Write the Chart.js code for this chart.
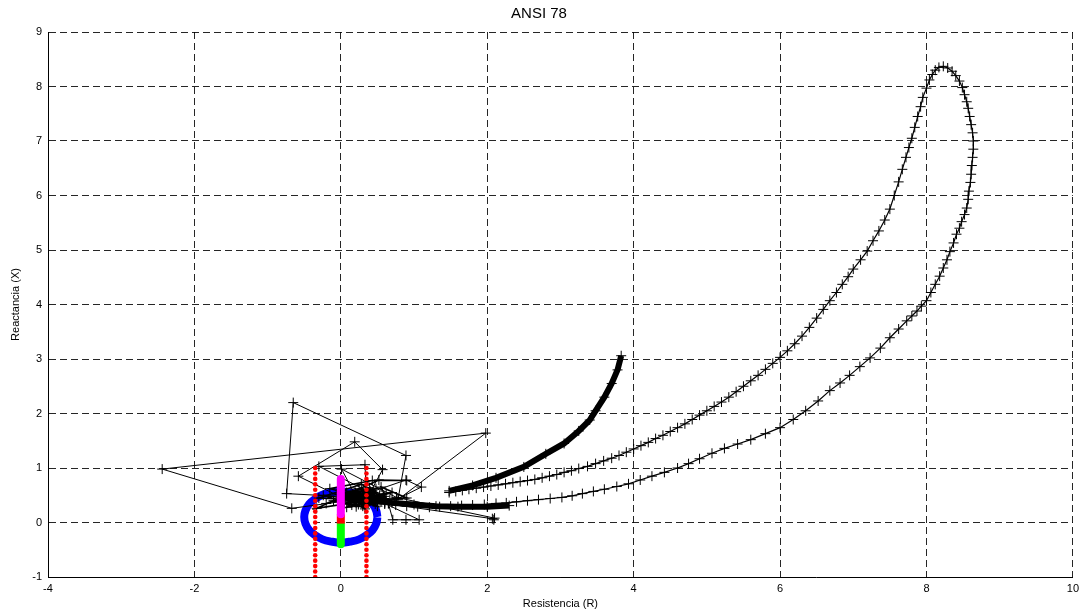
<!DOCTYPE html>
<html>
<head>
<meta charset="utf-8">
<script src="https://cdn.jsdelivr.net/npm/chart.js@4/dist/chart.umd.min.js"></script>
<style>
  html, body { margin: 0; padding: 0; background: #fff; }
  #wrap { width: 1084px; height: 613px; }
</style>
</head>
<body>
<div id="wrap"><canvas id="chart"></canvas></div>
<script>
// impedance trajectory (R, X)
const loopUpR = [1.48, 1.57, 1.66, 1.75, 1.85, 1.95, 2.05, 2.15, 2.25, 2.35, 2.45, 2.55, 2.65, 2.75, 2.85, 2.95, 3.05, 3.15, 3.25, 3.37, 3.48, 3.59, 3.7, 3.8, 3.9, 4.0, 4.1, 4.2, 4.3, 4.4, 4.5, 4.6, 4.7, 4.8, 4.9, 5.0, 5.1, 5.2, 5.3, 5.4, 5.5, 5.6, 5.7, 5.8, 5.9, 6.0, 6.1, 6.2, 6.3, 6.4, 6.5, 6.59, 6.68, 6.77, 6.85, 6.93, 7.0, 7.1, 7.19, 7.27, 7.35, 7.43, 7.5, 7.56, 7.62, 7.67, 7.72, 7.76, 7.8, 7.84, 7.88, 7.92, 7.95, 8.0, 8.04, 8.08, 8.12, 8.17, 8.23];
const loopUpX = [0.55, 0.57, 0.59, 0.61, 0.63, 0.65, 0.67, 0.69, 0.71, 0.73, 0.75, 0.77, 0.79, 0.82, 0.85, 0.88, 0.92, 0.95, 0.99, 1.03, 1.08, 1.13, 1.18, 1.23, 1.29, 1.35, 1.41, 1.47, 1.54, 1.60, 1.67, 1.74, 1.81, 1.89, 1.97, 2.05, 2.13, 2.21, 2.30, 2.40, 2.50, 2.60, 2.70, 2.81, 2.92, 3.03, 3.15, 3.28, 3.42, 3.58, 3.75, 3.91, 4.07, 4.22, 4.37, 4.51, 4.65, 4.82, 4.98, 5.17, 5.35, 5.55, 5.75, 6.00, 6.25, 6.48, 6.70, 6.88, 7.05, 7.25, 7.45, 7.63, 7.80, 7.97, 8.12, 8.22, 8.30, 8.35, 8.37];
const loopDownR = [8.29, 8.35, 8.40, 8.45, 8.49, 8.52, 8.55, 8.57, 8.59, 8.61, 8.63, 8.64, 8.64, 8.63, 8.62, 8.61, 8.60, 8.58, 8.57, 8.55, 8.52, 8.48, 8.45, 8.41, 8.37, 8.32, 8.28, 8.23, 8.18, 8.12, 8.06, 8.0, 7.93, 7.87, 7.80, 7.73, 7.62, 7.5, 7.37, 7.23, 7.09, 6.95, 6.82, 6.68, 6.52, 6.35, 6.18, 6.0, 5.8, 5.6, 5.42, 5.24, 5.07, 4.9, 4.75, 4.6, 4.42, 4.25, 4.09, 3.93, 3.77, 3.6, 3.45, 3.3, 3.16, 3.02, 2.86, 2.7, 2.55, 2.4, 2.26, 2.12, 1.96, 1.8, 1.65, 1.5, 1.35, 1.21, 1.05, 0.9, 0.75, 0.6];
const loopDownX = [8.34, 8.28, 8.20, 8.10, 7.98, 7.85, 7.72, 7.60, 7.45, 7.30, 7.15, 7.00, 6.85, 6.70, 6.55, 6.39, 6.24, 6.08, 5.93, 5.77, 5.65, 5.52, 5.40, 5.29, 5.13, 4.97, 4.82, 4.67, 4.52, 4.37, 4.22, 4.07, 3.97, 3.88, 3.79, 3.70, 3.55, 3.39, 3.20, 3.02, 2.86, 2.70, 2.56, 2.42, 2.23, 2.05, 1.89, 1.74, 1.63, 1.52, 1.44, 1.36, 1.27, 1.17, 1.08, 1.00, 0.92, 0.85, 0.78, 0.71, 0.66, 0.61, 0.57, 0.53, 0.49, 0.46, 0.44, 0.42, 0.40, 0.38, 0.36, 0.35, 0.33, 0.32, 0.31, 0.30, 0.29, 0.28, 0.29, 0.30, 0.32, 0.34];

const thickR = [1.48, 1.8, 2.12, 2.5, 2.8, 3.05, 3.25, 3.4, 3.48, 3.6, 3.7, 3.78, 3.83];
const thickX = [0.58, 0.68, 0.82, 1.02, 1.26, 1.45, 1.68, 1.88, 2.05, 2.3, 2.55, 2.8, 3.06];

const bandR = [0.45, 0.7, 1.0, 1.3, 1.6, 2.0, 2.3];
const bandX = [0.40, 0.36, 0.33, 0.30, 0.29, 0.29, 0.31];

const transR = [0.40, -0.74, -0.65, 0.89, 0.78, 1.98, -2.44, -0.67, 0.10, -0.58, 0.19, 0.57, 0.40, -0.30, 0.33, 0.35, 0.89, 1.10, 0.65, 0.71, 0.89, 1.07, 0.60, 2.07, 2.09, 2.10, 0.76, 0.01, 0.20];
const transX = [0.45, 0.53, 2.20, 1.23, 0.42, 1.64, 0.98, 0.26, 0.40, 0.85, 1.48, 0.97, 0.55, 1.03, 1.06, 0.53, 0.78, 0.65, 0.35, 0.05, 0.05, 0.05, 0.35, 0.07, 0.05, 0.08, 0.46, 0.98, 0.50];

const clusterR = [0.05, 0.2, 0.35, 0.15, -0.1, 0.25, 0.45, 0.3, 0.1, -0.2, 0.4, 0.55, 0.2, 0.0, 0.32, 0.5, 0.12, -0.3, 0.28, 0.6, 0.38, 0.08, 0.22, 0.48, -0.05, 0.33, 0.18, 0.42, 0.7, 0.25, 0.9, 0.55, 0.65, -0.15, 0.43, 0.9, 0.52, -0.33, 0.15, 0.62,
  0.27, 0.36, 0.14, 0.46, 0.31, 0.05, 0.40, 0.24, 0.58, 0.11, 0.34, 0.50, 0.19, 0.44, 0.29, 0.67, 0.08, 0.37, 0.53, 0.21, -0.24, 0.30, 0.47, 0.16, 0.39, 0.60, 0.26, 0.12, 0.44, 0.34];
const clusterX = [0.45, 0.55, 0.42, 0.32, 0.40, 0.62, 0.50, 0.30, 0.50, 0.35, 0.58, 0.40, 0.38, 0.60, 0.50, 0.30, 0.42, 0.45, 0.70, 0.48, 0.36, 0.28, 0.48, 0.62, 0.52, 0.25, 0.58, 0.44, 0.55, 0.40, 0.45, 0.65, 0.35, 0.62, 0.77, 0.77, 0.78, 0.26, 0.36, 0.53,
  0.46, 0.52, 0.56, 0.41, 0.39, 0.35, 0.48, 0.33, 0.44, 0.47, 0.61, 0.37, 0.44, 0.53, 0.57, 0.42, 0.55, 0.43, 0.50, 0.29, 0.50, 0.40, 0.34, 0.51, 0.64, 0.38, 0.49, 0.39, 0.46, 0.31];

// relay characteristic
const mhoR = [0.5, 0.483, 0.433, 0.354, 0.25, 0.129, 0, -0.129, -0.25, -0.354, -0.433, -0.483, -0.5, -0.483, -0.433, -0.354, -0.25, -0.129, 0, 0.129, 0.25, 0.354, 0.433, 0.483, 0.5];
const mhoX = [0.10, 0.22, 0.34, 0.43, 0.51, 0.55, 0.57, 0.55, 0.51, 0.43, 0.34, 0.22, 0.10, -0.02, -0.14, -0.23, -0.31, -0.35, -0.37, -0.35, -0.31, -0.23, -0.14, -0.02, 0.10];
const blinderR = [-0.35, 0.35];
const blinderX = [-1.0, -0.9, -0.8, -0.7, -0.6, -0.5, -0.4, -0.3, -0.2, -0.1, 0.0, 0.1, 0.2, 0.3, 0.4, 0.5, 0.6, 0.7, 0.8, 0.9, 1.0];
const fwdX = [0.15, 0.80];
const midX = [-0.02, 0.15];
const revX = [-0.40, -0.02];

const xTicks = [-4, -2, 0, 2, 4, 6, 8, 10];
const yTicks = [-1, 0, 1, 2, 3, 4, 5, 6, 7, 8, 9];

function pts(rs, xs) {
  return rs.map((r, i) => ({ x: r, y: xs[i] }));
}

const FONT = "'Liberation Sans', Arial, Helvetica, sans-serif";

function traj(data, width, order) {
  return {
    data: data, showLine: true, borderColor: '#000', backgroundColor: '#000',
    borderWidth: width, pointStyle: 'cross', pointRadius: 5, pointBorderWidth: 1,
    pointBorderColor: '#000', order: order, tension: 0
  };
}

const datasets = [
  { data: pts([0, 0], fwdX), showLine: true, borderColor: '#ff00ff', borderWidth: 8, borderCapStyle: 'round', pointRadius: 0, order: 0 },
  { data: pts([0, 0], midX), showLine: true, borderColor: '#ff0000', borderWidth: 8, pointRadius: 0, order: 0 },
  { data: pts([0, 0], revX), showLine: true, borderColor: '#00ff00', borderWidth: 8, borderCapStyle: 'round', pointRadius: 0, order: 0 },
  { data: blinderX.map(v => ({ x: blinderR[0], y: v })), showLine: false, pointRadius: 2.3, pointBorderWidth: 0, backgroundColor: '#ff0000', order: 1 },
  { data: blinderX.map(v => ({ x: blinderR[1], y: v })), showLine: false, pointRadius: 2.3, pointBorderWidth: 0, backgroundColor: '#ff0000', order: 1 },
  traj(pts(transR, transX), 1, 2),
  traj(pts(clusterR, clusterX), 1.6, 2),
  traj(pts(bandR, bandX), 6, 2),
  traj(pts(thickR, thickX), 6, 2),
  traj(pts(loopUpR.concat(loopDownR), loopUpX.concat(loopDownX)), 1.2, 2),
  { data: pts(mhoR, mhoX), showLine: true, borderColor: '#0000ff', borderWidth: 8, tension: 0.4, pointRadius: 0, order: 3 }
];

function gridOpts() {
  return { color: 'rgba(0,0,0,0.85)', lineWidth: 1, drawTicks: false };
}

new Chart(document.getElementById('chart'), {
  type: 'scatter',
  data: { datasets: datasets },
  options: {
    responsive: true,
    maintainAspectRatio: false,
    animation: false,
    layout: { padding: { left: 0, right: 6, top: 0, bottom: 0 } },
    plugins: {
      legend: { display: false },
      tooltip: { enabled: false },
      title: {
        display: true, text: 'ANSI 78', color: '#000',
        font: { family: FONT, size: 15, weight: 'normal' },
        padding: { top: 5, bottom: 9 }
      }
    },
    scales: {
      x: {
        type: 'linear', min: -4, max: 10,
        afterBuildTicks: s => { s.ticks = xTicks.map(v => ({ value: v })); },
        afterFit: s => { s.height = 36; },
        ticks: { color: '#000', font: { family: FONT, size: 11 }, padding: 5, maxRotation: 0 },
        grid: gridOpts(),
        border: { display: true, color: '#000', width: 1, dash: [7, 4] },
        title: { display: true, text: 'Resistencia (R)', color: '#000', font: { family: FONT, size: 11 }, padding: { top: 0, bottom: 2 } }
      },
      y: {
        type: 'linear', min: -1, max: 9,
        afterBuildTicks: s => { s.ticks = yTicks.map(v => ({ value: v })); },
        afterFit: s => { s.width = 48; },
        ticks: { color: '#000', font: { family: FONT, size: 11 }, padding: 6 },
        grid: gridOpts(),
        border: { display: true, color: '#000', width: 1, dash: [7, 4] },
        title: { display: true, text: 'Reactancia (X)', color: '#000', font: { family: FONT, size: 11 }, padding: { top: 9, bottom: 0 } }
      }
    }
  }
});
</script>
</body>
</html>
